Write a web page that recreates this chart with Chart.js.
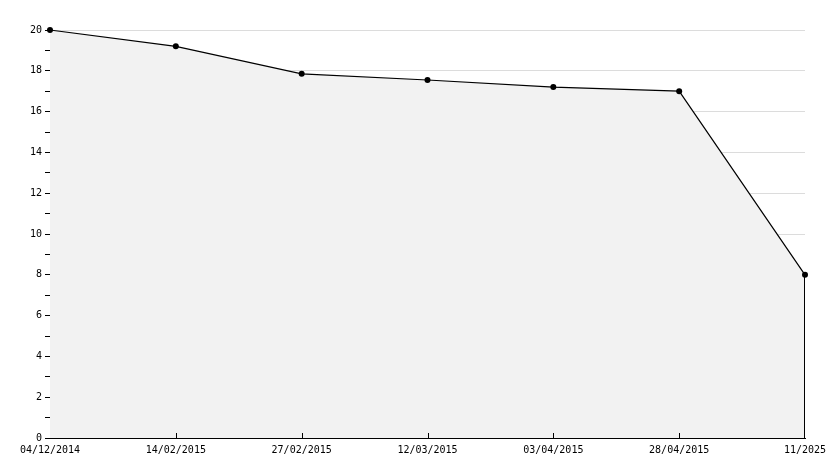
<!DOCTYPE html>
<html>
<head>
<meta charset="utf-8">
<script src="https://cdn.jsdelivr.net/npm/chart.js@4/dist/chart.umd.min.js"></script>
<style>
  html, body { margin: 0; padding: 0; background: #fff; }
  #wrap { width: 834px; height: 468px; }
</style>
</head>
<body>
<div id="wrap"><canvas id="chart"></canvas></div>
<script>
// Data
const dateLabels = ['04/12/2014', '14/02/2015', '27/02/2015', '12/03/2015', '03/04/2015', '28/04/2015', '11/2025'];
const values = [20, 19.2, 17.85, 17.55, 17.2, 17.0, 8];
const yMin = 0, yMax = 20;

// Inward x ticks and the right edge of the filled area
const extras = {
    id: 'extras',
    afterDatasetsDraw(chart) {
        const ctx = chart.ctx;
        const x = chart.scales.x;
        const area = chart.chartArea;
        ctx.save();
        ctx.strokeStyle = '#000';
        ctx.lineWidth = 1;
        ctx.beginPath();
        for (let i = 1; i < dateLabels.length - 1; i++) {
            const px = Math.round(x.getPixelForTick(i)) + 0.5;
            ctx.moveTo(px, area.bottom);
            ctx.lineTo(px, area.bottom - 5);
        }
        const last = chart.getDatasetMeta(0).data[values.length - 1];
        const lx = Math.round(last.x) - 0.5;
        ctx.moveTo(lx, last.y);
        ctx.lineTo(lx, area.bottom);
        ctx.stroke();
        ctx.restore();
    }
};

const font = { family: 'DejaVu Sans Mono', size: 10 };

new Chart(document.getElementById('chart'), {
    type: 'line',
    data: {
        labels: dateLabels,
        datasets: [{
            data: values,
            borderColor: '#000',
            borderWidth: 1.2,
            backgroundColor: '#f2f2f2',
            fill: 'origin',
            clip: false,
            pointRadius: 3,
            pointBackgroundColor: '#000',
            pointBorderColor: '#000',
            pointBorderWidth: 0,
            tension: 0
        }]
    },
    options: {
        responsive: true,
        maintainAspectRatio: false,
        animation: false,
        layout: { padding: { top: 30, right: 29, bottom: 0, left: 0 } },
        plugins: { legend: { display: false }, tooltip: { enabled: false } },
        scales: {
            x: {
                offset: false,
                grid: { display: true, drawOnChartArea: false, drawTicks: false },
                border: { color: '#000', width: 1 },
                ticks: { color: '#000', font, padding: 6, maxRotation: 0, autoSkip: false },
                afterFit(scale) { scale.height = 30; }
            },
            y: {
                min: yMin,
                max: yMax,
                grid: {
                    color: ctx => (ctx.tick && ctx.tick.value % 2 === 0 && ctx.tick.value !== 0) ? '#dcdcdc' : 'transparent',
                    tickColor: '#000',
                    tickLength: 5
                },
                border: { color: '#000', width: 1 },
                ticks: {
                    stepSize: 1,
                    color: '#000',
                    font,
                    padding: 3,
                    callback: v => (v % 2 === 0 ? v : '')
                },
                afterFit(scale) { scale.width = 50; }
            }
        }
    },
    plugins: [extras]
});
</script>
</body>
</html>
